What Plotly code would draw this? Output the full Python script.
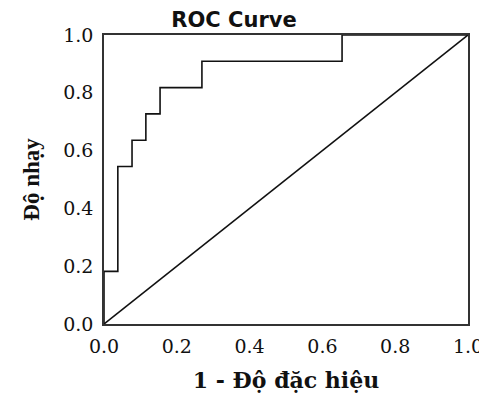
import plotly.graph_objects as go

# ROC curve points (1 - specificity, sensitivity)
fpr = [0.0, 0.0, 0.038, 0.077, 0.115, 0.154, 0.269, 0.654, 1.0]
tpr = [0.0, 0.182, 0.545, 0.636, 0.727, 0.818, 0.909, 1.0, 1.0]
ref_x = [0.0, 1.0]
ref_y = [0.0, 1.0]
tick_vals = [0.0, 0.2, 0.4, 0.6, 0.8, 1.0]
tick_text = ["0.0", "0.2", "0.4", "0.6", "0.8", "1.0"]

W, H = 479, 385  # page body adds an 8px margin

fig = go.Figure()
fig.add_trace(go.Scatter(x=ref_x, y=ref_y, mode="lines",
                         line=dict(color="#111111", width=1.6), showlegend=False))
fig.add_trace(go.Scatter(x=fpr, y=tpr, mode="lines", line_shape="hv",
                         line=dict(color="#111111", width=1.6), showlegend=False))

axis_common = dict(
    range=[0, 1], tickvals=tick_vals, ticktext=tick_text, automargin=False,
    showgrid=False, zeroline=False, showline=True, mirror=True,
    linecolor="#333333", linewidth=1.5, ticks="", ticklabeloverflow="allow",
    tickfont=dict(family="DejaVu Serif", size=19, color="#111111"),
)

fig.update_layout(
    width=W, height=H,
    margin=dict(l=96, r=19, t=27, b=69, autoexpand=False),
    paper_bgcolor="white", plot_bgcolor="white",
    title=dict(text="ROC Curve", x=226 / W, xanchor="center", xref="container",
               y=1 - 4 / H, yanchor="top", yref="container", automargin=False, pad=dict(t=0),
               font=dict(family="DejaVu Sans", size=21, color="#111111", weight="bold")),
    xaxis=dict(**axis_common, ticklabelstandoff=4,
               title=dict(text="1 - Độ đặc hiệu", standoff=25,
                          font=dict(family="DejaVu Serif", size=22, weight="bold", color="#111111"))),
    yaxis=dict(**axis_common, ticklabelstandoff=5,
               title=dict(text="Độ nhạy", standoff=17,
                          font=dict(family="Liberation Serif", size=23, weight="bold", color="#111111"))),
)

fig.write_html("out.html")
